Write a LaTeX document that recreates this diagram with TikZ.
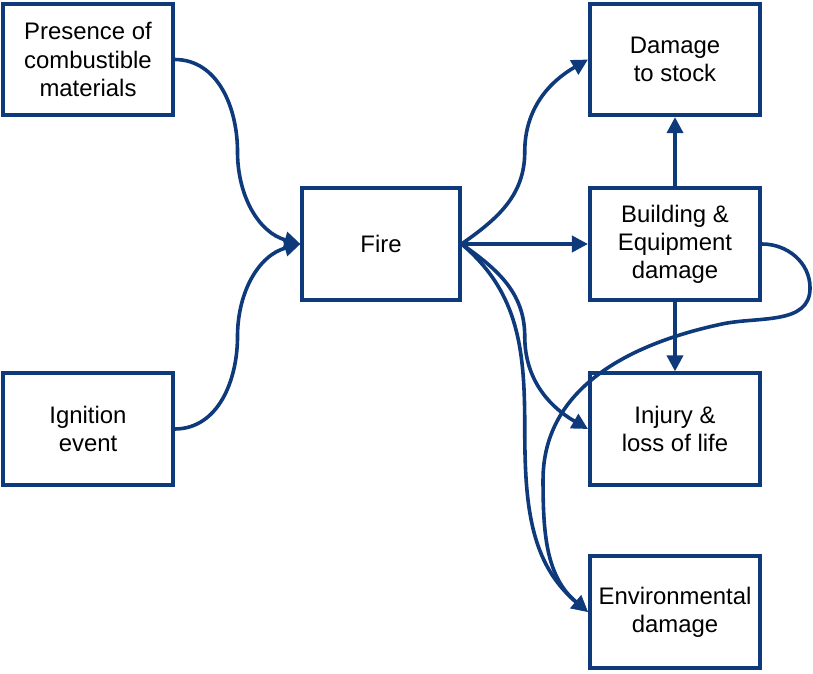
\documentclass[tikz,border=0pt]{standalone}
\usepackage{fontspec}
\setmainfont{Liberation Sans}
\usepackage{xcolor}
\usepackage{tikz}
\usetikzlibrary{arrows.meta,calc}
\definecolor{fireblue}{RGB}{14,58,124}

\begin{document}
\begin{tikzpicture}[x=0.025cm,y=0.025cm,
		box/.style={draw=fireblue,line width=0.1cm,minimum width=4.25cm,minimum height=2.78cm,
			align=center,inner sep=0pt,font=\fontsize{17}{20}\selectfont},
		link/.style={draw=fireblue,line width=0.09cm,-{Triangle[length=0.4cm,width=0.4cm]}}]
				\useasboundingbox (0,0) rectangle (813,-674);
				
				% causes (left)
				\node[box,minimum width=4.225cm] (P) at (88,-59.5) {Presence of\\combustible\\materials};
				\node[box,minimum width=4.225cm] (G) at (88,-429) {Ignition\\event};
				\node[box,minimum width=3.925cm] (F) at (381,-244) {Fire};
				
				% consequences (right)
				\foreach \n/\y/\t in
				{S/59.5/{Damage\\to stock}, B/244/{Building \&\\Equipment\\damage},
				 L/429/{Injury \&\\loss of life}, E/612/{Environmental\\damage}}{
					\node[box] (\n) at (675,-\y) {\t};
				}
				
				% s-curves going down
				\foreach \a/\b/\o/\i in
				{P/F/0/165, F/L/-35/150, F/E/-40/140}{
					\draw[link] (\a.east) to[out=\o,in=90] ($(\a.east)!0.5!(\b.west)$) to[out=-90,in=\i] (\b.west);
				}
				% s-curves going up
				\foreach \a/\b/\o/\i in
				{G/F/0/195, F/S/35/210}{
					\draw[link] (\a.east) to[out=\o,in=-90] ($(\a.east)!0.5!(\b.west)$) to[out=90,in=\i] (\b.west);
				}
				
				\draw[link] (F.east) -- (B.west);
				\draw[link] (B.north) -- (S.south);
				\draw[link] (B.south) -- (L.north);
				
				% loop round to E
				\draw[link] (B.east) to[out=0,in=90] ++(48,-44) to[out=-90,in=12] ++(-88,-36)
					to[out=192,in=90] ++(-179,-156) to[out=-90,in=140] (E.west);
			\end{tikzpicture}
\end{document}
